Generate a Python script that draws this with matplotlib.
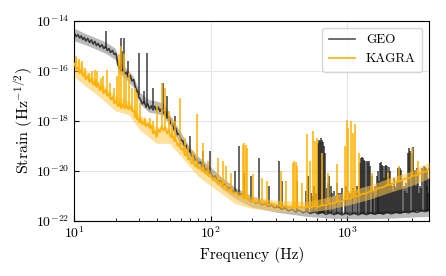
import numpy as np
import matplotlib
matplotlib.use("Agg")
import matplotlib.pyplot as plt
from matplotlib.ticker import FixedLocator, NullLocator, LogFormatterMathtext

plt.rcParams.update({
    "font.family": "serif",
    "font.serif": ["cmr10"],
    "mathtext.fontset": "cm",
    "axes.formatter.use_mathtext": True,
    "axes.unicode_minus": False,
})

# common frequency grid of the two spectra (Hz)
freq = [10.0, 10.3, 10.6, 10.9, 11.2, 11.5, 11.8, 12.1, 12.5, 12.9, 13.3, 13.7, 14.1, 14.5,
        14.9, 15.4, 15.9, 16.4, 16.9, 17.4, 17.9, 18.4, 19.0, 19.6, 20.2, 20.8, 21.4, 22.0,
        22.7, 23.4, 24.1, 24.8, 25.6, 26.4, 27.2, 28.0, 28.8, 29.7, 30.6, 31.5, 32.5, 33.5,
        34.5, 35.5, 36.6, 37.7, 38.8, 40.0, 41.2, 42.4, 43.7, 45.0, 46.4, 47.8, 49.2, 50.7,
        52.2, 53.8, 55.4, 57.1, 58.8, 60.6, 62.4, 64.3, 66.2, 68.2, 70.2, 72.3, 74.5, 76.7,
        79.0, 81.4, 83.8, 86.3, 88.9, 91.6, 94.3, 97.1, 100, 104, 108, 113, 118, 123, 128,
        134, 140, 146, 153, 160, 168, 176, 185, 194, 204, 214, 225, 237, 250, 264, 279, 295,
        312, 330, 350, 372, 395, 420, 447, 476, 507, 540, 576, 615, 657, 702, 750, 802, 858,
        918, 983, 1053, 1128, 1209, 1296, 1390, 1491, 1600, 1717, 1843, 1979, 2125, 2282,
        2451, 2633, 2829, 3040, 3267, 3511, 3774, 4000]

# GEO median, log10 strain
geo_log = [-14.5, -14.62, -14.55, -14.68, -14.6, -14.74, -14.66, -14.8, -14.7, -14.86,
           -14.76, -14.92, -14.82, -14.98, -14.9, -15.04, -14.95, -15.1, -15.02, -15.18,
           -15.1, -15.26, -15.18, -15.34, -15.3, -15.75, -15.85, -16.02, -15.92, -16.12,
           -16.05, -16.25, -16.18, -16.4, -16.35, -16.65, -16.8, -17.05, -17.15, -17.32,
           -17.22, -17.45, -17.32, -17.52, -17.4, -17.56, -17.42, -17.58, -17.45, -17.62,
           -17.5, -17.7, -17.62, -17.88, -17.85, -18.1, -18.12, -18.35, -18.3, -18.55,
           -18.52, -18.78, -18.8, -19.02, -18.98, -19.22, -19.2, -19.42, -19.38, -19.58,
           -19.52, -19.72, -19.65, -19.85, -19.78, -19.98, -19.9, -20.1, -20.05, -20.25,
           -20.2, -20.42, -20.38, -20.58, -20.52, -20.72, -20.66, -20.85, -20.8, -20.98,
           -20.92, -21.1, -21.05, -21.2, -21.15, -21.3, -21.24, -21.36, -21.3, -21.42,
           -21.36, -21.48, -21.42, -21.54, -21.48, -21.6, -21.54, -21.64, -21.58, -21.67,
           -21.62, -21.7, -21.64, -21.72, -21.66, -21.74, -21.68, -21.75, -21.69, -21.76,
           -21.7, -21.76, -21.7, -21.76, -21.7, -21.75, -21.69, -21.74, -21.68, -21.73,
           -21.67, -21.72, -21.66, -21.7, -21.64, -21.68, -21.62, -21.66, -21.6, -21.63,
           -21.58]

# KAGRA median, log10 strain
kagra_log = [-15.7, -15.95, -15.85, -16.1, -15.95, -16.2, -16.1, -16.35, -16.2, -16.45,
             -16.3, -16.55, -16.4, -16.65, -16.5, -16.78, -16.65, -16.9, -16.75, -17.0,
             -16.9, -17.15, -17.05, -17.3, -17.2, -17.42, -17.3, -17.5, -17.35, -17.52,
             -17.38, -17.55, -17.42, -17.6, -17.6, -17.85, -17.8, -18.05, -17.92, -18.15,
             -18.0, -18.22, -18.1, -18.3, -18.2, -18.5, -18.4, -18.65, -18.35, -18.45,
             -18.2, -18.4, -18.25, -18.5, -18.4, -18.65, -18.55, -18.8, -18.75, -19.0,
             -18.9, -19.15, -19.1, -19.35, -19.3, -19.55, -19.5, -19.7, -19.65, -19.82,
             -19.75, -19.92, -19.85, -20.02, -19.95, -20.12, -20.05, -20.22, -20.2, -20.38,
             -20.32, -20.52, -20.46, -20.66, -20.6, -20.8, -20.74, -20.92, -20.86, -21.02,
             -20.98, -21.1, -21.05, -21.2, -21.15, -21.27, -21.22, -21.32, -21.27, -21.37,
             -21.32, -21.42, -21.36, -21.45, -21.4, -21.47, -21.42, -21.48, -21.43, -21.48,
             -21.43, -21.47, -21.41, -21.44, -21.37, -21.38, -21.3, -21.3, -21.22, -21.22,
             -21.12, -21.12, -21.02, -21.0, -20.92, -20.9, -20.8, -20.78, -20.68, -20.66,
             -20.56, -20.54, -20.44, -20.42, -20.32, -20.3, -20.2, -20.18, -20.06, -20.04,
             -19.92]

# percentile bands
geo_band_freq = [10, 12, 14, 17, 20, 21, 24, 27, 30, 35, 40, 45, 50, 60, 70, 80, 100,
                 120, 150, 200, 300, 500, 800, 1200, 2000, 3000, 4000]
geo_band_lo = [-14.8, -14.95, -15.1, -15.3, -15.55, -16.05, -16.35, -16.65, -17.3, -17.65,
               -17.7, -17.8, -18.2, -18.95, -19.5, -19.85, -20.3, -20.7, -21.1, -21.45,
               -21.65, -21.82, -21.9, -21.92, -21.9, -21.85, -21.82]
geo_band_hi = [-14.3, -14.5, -14.65, -14.85, -15.1, -15.6, -15.9, -16.2, -16.85, -17.15,
               -17.2, -17.3, -17.75, -18.45, -19.05, -19.4, -19.85, -20.25, -20.65, -21.0,
               -21.3, -21.48, -21.6, -21.62, -21.6, -21.55, -21.5]
kagra_band_freq = [10, 12, 15, 20, 25, 30, 40, 50, 60, 80, 100, 150, 200, 300, 500, 700,
                   1000, 1500, 2000, 3000, 4000]
kagra_band_lo = [-16.25, -16.6, -17.0, -17.6, -17.75, -18.35, -18.9, -18.9, -19.4,
                 -20.2, -20.6, -21.3, -21.5, -21.62, -21.66, -21.56, -21.38, -21.12,
                 -20.88, -20.58, -20.3]
kagra_band_hi = [-15.35, -15.95, -16.4, -17.0, -17.2, -17.75, -18.25, -18.25, -18.85,
                 -19.6, -20.0, -20.78, -21.02, -21.18, -21.23, -21.08, -20.82, -20.56,
                 -20.3, -20.0, -19.65]

# GEO lines (Hz, base, top in log10 strain)
geo_line_freq = [17.1, 21.8, 22.4, 23.0, 24.6, 29.8, 32.3, 33.9, 37.6, 44.4, 47.5, 54.8,
                 70, 87, 99.5, 150, 160, 174, 199, 226, 268, 318, 336, 433, 500, 520, 545,
                 575, 612, 622, 632, 643, 655, 667, 680, 692, 740, 770, 800, 835, 870, 920,
                 960, 1010, 1050, 1100, 1150, 1200, 1240, 1265, 1290, 1315, 1340, 1365,
                 1390, 1420, 1450, 1480, 1520, 1560, 1600, 1650, 1700, 1760, 1790, 1820,
                 1850, 1900, 1940, 1980, 2030, 2080, 2150, 2220, 2300, 2360, 2410, 2460,
                 2510, 2600, 2700, 2800, 2860, 2920, 2980, 3040, 3100, 3170, 3250, 3330,
                 3450, 3580, 3650, 3720, 3800, 3880, 3950]
geo_line_base = [-15.1, -15.9, -16.0, -16.05, -16.2, -16.95, -17.3, -17.35, -17.45, -17.55,
                 -17.8, -18.35, -19.3, -19.8, -20.1, -20.9, -20.95, -21.05, -21.25, -21.3,
                 -21.4, -21.5, -21.5, -21.6, -21.65, -21.65, -21.65, -21.65, -21.68,
                 -21.68, -21.68, -21.68, -21.68, -21.68, -21.7, -21.7, -21.7, -21.7,
                 -21.72, -21.72, -21.72, -21.72, -21.72, -21.73, -21.73, -21.73, -21.73,
                 -21.73, -21.73, -21.73, -21.73, -21.73, -21.73, -21.73, -21.73, -21.73,
                 -21.72, -21.72, -21.72, -21.72, -21.72, -21.72, -21.72, -21.71, -21.71,
                 -21.71, -21.71, -21.7, -21.7, -21.7, -21.7, -21.7, -21.69, -21.69,
                 -21.69, -21.68, -21.68, -21.68, -21.68, -21.67, -21.66, -21.65, -21.65,
                 -21.65, -21.64, -21.64, -21.63, -21.63, -21.62, -21.62, -21.61, -21.6,
                 -21.6, -21.6, -21.6, -21.6, -21.6]
geo_line_top = [-14.4, -14.67, -15.2, -14.7, -15.6, -15.27, -16.8, -15.27, -16.67, -16.5,
                -17.0, -17.8, -18.6, -19.2, -19.2, -20.0, -19.0, -20.1, -20.2, -19.5,
                -20.6, -19.6, -20.4, -20.4, -20.8, -20.2, -20.9, -20.6, -18.9, -18.75,
                -18.8, -18.7, -18.75, -18.85, -19.0, -19.3, -20.2, -20.9, -20.8, -21.0,
                -20.9, -20.7, -21.0, -20.8, -20.9, -20.7, -20.8, -20.9, -19.7, -19.5,
                -19.45, -19.5, -19.55, -19.6, -19.6, -19.65, -19.6, -19.8, -20.2, -20.8,
                -20.6, -20.2, -20.0, -19.7, -19.65, -19.75, -19.8, -19.8, -19.75, -19.8,
                -19.85, -20.0, -20.6, -20.3, -20.7, -19.9, -19.85, -19.9, -19.95, -20.6,
                -20.5, -19.3, -19.1, -19.2, -19.3, -19.05, -20.0, -19.95, -19.9, -20.1,
                -20.6, -19.9, -19.8, -19.85, -19.9, -20.0, -20.3]

# smaller GEO lines filling the high-frequency forest
geo_forest_freq = [560, 590, 710, 720, 760, 850, 900, 990, 1080, 1180, 1540, 1620, 1680,
                   1730, 1880, 2000, 2110, 2180, 2260, 2330, 2550, 2650, 2750, 3200, 3400,
                   3520, 3850, 3980]
geo_forest_base = [-21.65, -21.66, -21.7, -21.7, -21.7, -21.72, -21.72, -21.73, -21.73,
                   -21.73, -21.72, -21.72, -21.72, -21.71, -21.71, -21.7, -21.7, -21.69,
                   -21.69, -21.68, -21.67, -21.66, -21.65, -21.62, -21.61, -21.6, -21.6,
                   -21.6]
geo_forest_top = [-21.0, -20.9, -20.7, -20.5, -20.6, -20.5, -20.9, -20.6, -20.9, -20.6,
                  -20.9, -21.0, -20.5, -20.4, -20.3, -20.2, -20.5, -20.8, -20.6, -20.5,
                  -20.4, -20.8, -20.9, -20.6, -20.9, -20.7, -20.6, -20.9]

# KAGRA lines (Hz, base, top in log10 strain)
kagra_line_freq = [10.2, 10.8, 11.4, 12.0, 12.8, 13.5, 14.1, 14.7, 15.6, 16.2, 17.4, 18.2,
                   19.5, 20.5, 21.2, 21.8, 23.0, 24.0, 25.0, 26.3, 28.0, 28.7, 30.5, 33.0,
                   35.7, 38.0, 40.2, 43.7, 46.0, 49, 51.7, 54.8, 59.5, 64.6, 68, 74, 79, 87,
                   95, 113, 123, 130, 142, 172, 176, 180, 184, 203, 239, 260, 326, 356,
                   400, 410, 420, 430, 470, 510, 536, 565, 580, 600, 655, 730, 840, 965,
                   1000, 1020, 1070, 1110, 1150, 1220, 1520, 2000, 2400, 3000, 3320]
kagra_line_base = [-15.8, -16.0, -16.1, -16.3, -16.4, -16.5, -16.6, -16.65, -16.75, -16.9,
                   -17.0, -17.1, -17.25, -17.3, -17.4, -17.45, -17.4, -17.45, -17.5,
                   -17.55, -17.9, -17.95, -18.1, -18.2, -18.3, -18.5, -18.6, -18.3,
                   -18.35, -18.5, -18.7, -18.85, -19.1, -19.4, -19.5, -19.7, -19.9,
                   -20.05, -20.2, -20.55, -20.7, -20.75, -20.9, -21.1, -21.1, -21.1,
                   -21.15, -21.25, -21.3, -21.33, -21.4, -21.4, -21.42, -21.42, -21.43,
                   -21.43, -21.45, -21.45, -21.45, -21.45, -21.44, -21.42, -21.38, -21.3,
                   -21.2, -21.12, -21.1, -21.08, -21.05, -21.0, -20.98, -20.95, -20.8,
                   -20.6, -20.45, -20.25, -20.15]
kagra_line_top = [-15.4, -15.53, -15.6, -15.9, -16.1, -16.0, -15.97, -16.0, -16.3, -16.2,
                  -15.97, -16.5, -16.67, -16.2, -15.33, -15.0, -15.33, -16.2, -16.1,
                  -16.67, -16.67, -16.9, -17.3, -17.87, -17.87, -18.0, -17.34, -16.5,
                  -16.67, -17.6, -17.87, -18.0, -17.07, -18.7, -19.0, -19.2, -17.74,
                  -18.9, -19.6, -19.5, -19.6, -19.8, -20.1, -18.95, -18.9, -18.95, -19.1,
                  -20.14, -20.3, -20.4, -20.0, -20.4, -19.7, -19.6, -19.65, -19.8, -20.5,
                  -18.53, -19.6, -18.41, -18.8, -18.7, -19.3, -20.1, -19.74, -19.0,
                  -17.97, -18.27, -18.0, -18.5, -18.14, -19.3, -20.1, -20.1, -19.8,
                  -19.07, -19.6]

geo_c = "#1a1a1a"
kagra_c = "#ffb000"

fig = plt.figure(figsize=(4.46, 2.76), dpi=100)
ax = fig.add_axes([0.167, 0.2, 0.795, 0.724])

p = lambda v: 10.0 ** np.asarray(v)

ax.fill_between(geo_band_freq, p(geo_band_lo), p(geo_band_hi), color="#8c8c8c",
                alpha=0.6, lw=0, zorder=1)
ax.vlines(geo_line_freq, p(geo_line_base), p(geo_line_top), color=geo_c, lw=1.1,
          alpha=0.85, zorder=2)
ax.vlines(geo_forest_freq, p(geo_forest_base), p(geo_forest_top), color=geo_c, lw=1.1,
          alpha=0.85, zorder=2)
ax.plot(freq, p(geo_log), color=geo_c, lw=1.2, alpha=0.8, label="GEO", zorder=3)

ax.fill_between(kagra_band_freq, p(kagra_band_lo), p(kagra_band_hi), color="#ffc94d",
                alpha=0.55, lw=0, zorder=4)
ax.vlines(kagra_line_freq, p(kagra_line_base), p(kagra_line_top), color=kagra_c, lw=1.1,
          zorder=5)
ax.plot(freq, p(kagra_log), color=kagra_c, lw=1.2, label="KAGRA", zorder=6)

ax.set_xscale("log")
ax.set_yscale("log")
ax.set_xlim(10, 4000)
ax.set_ylim(1e-22, 1e-14)
ax.yaxis.set_major_locator(FixedLocator([1e-22, 1e-20, 1e-18, 1e-16, 1e-14]))
ax.yaxis.set_major_formatter(LogFormatterMathtext(base=10.0))
ax.yaxis.set_minor_locator(NullLocator())
ax.tick_params(which="both", direction="in", labelsize=10)
ax.tick_params(which="major", length=3.5)
ax.tick_params(which="minor", length=2)
ax.grid(True, which="major", color="#e6e6e6", lw=0.8, zorder=0)
ax.set_axisbelow(True)

ax.set_xlabel("Frequency (Hz)", fontsize=11)
ax.set_ylabel("Strain (Hz$^{-1/2}$)", fontsize=11.5, labelpad=1)

leg = ax.legend(loc="upper right", fontsize=9.5, frameon=True, fancybox=True,
                handlelength=2.0, borderpad=0.5)
leg.get_frame().set_edgecolor("#cccccc")
leg.get_lines()[0].set_color("#555555")
leg.get_lines()[0].set_alpha(1.0)

fig.savefig("out.png", dpi=100)
